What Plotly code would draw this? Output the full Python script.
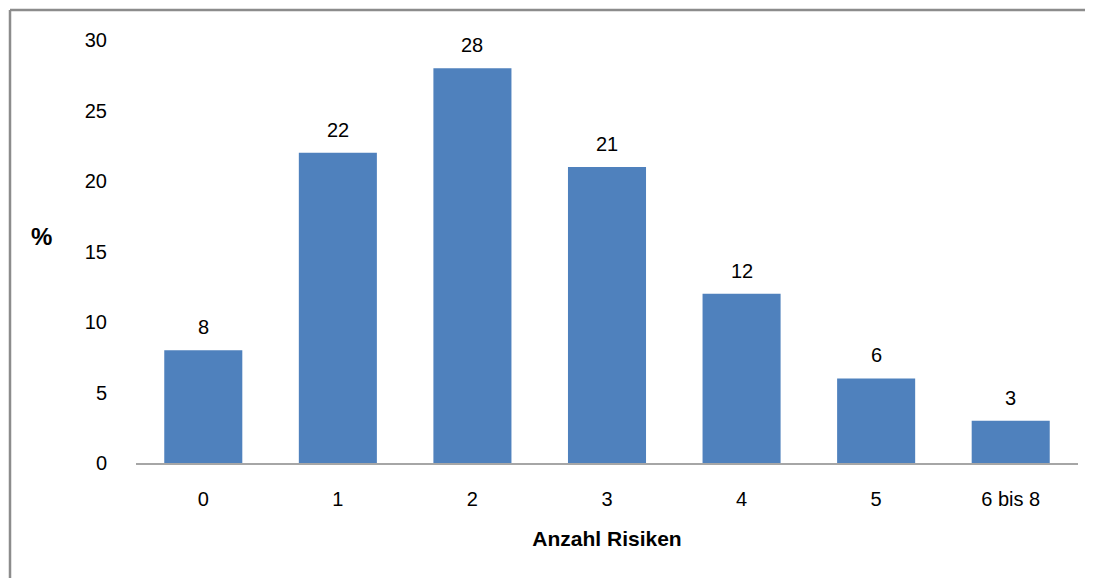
import plotly.graph_objects as go

categories = ["0", "1", "2", "3", "4", "5", "6 bis 8"]
values = [8, 22, 28, 21, 12, 6, 3]
y_ticks = [0, 5, 10, 15, 20, 25, 30]

# the page body adds an 8px offset; target positions are in window pixels
OFF = 8
W, H = 1093, 578
plot_left, plot_right, plot_top, plot_bottom = 136, 1078, 40, 463
ml = plot_left - OFF
mr = W - (plot_right - OFF)
mt = plot_top - OFF
mb = H - (plot_bottom - OFF)
pw, ph = W - ml - mr, H - mt - mb

def px_to_paper_x(px):
    return (px - OFF - ml) / pw

def px_to_paper_y(py):
    return (H - mb - (py - OFF)) / ph

FONT = "Liberation Sans"
bar_color = "#4F81BD"

fig = go.Figure()
fig.add_trace(go.Bar(
    x=categories, y=values, width=0.58,
    marker=dict(color=bar_color, line=dict(width=0)),
    hoverinfo="x+y",
))

for c, v in zip(categories, values):
    fig.add_annotation(x=c, y=v, text=str(v), showarrow=False,
                       yanchor="bottom", yshift=10,
                       font=dict(family=FONT, size=20, color="#000000"))

# outer chart frame (left and top edges)
fig.add_shape(type="line", xref="paper", yref="paper",
              x0=px_to_paper_x(10), x1=px_to_paper_x(W + 20),
              y0=px_to_paper_y(10), y1=px_to_paper_y(10),
              line=dict(color="#8c8c8c", width=2.5))
fig.add_shape(type="line", xref="paper", yref="paper",
              x0=px_to_paper_x(10), x1=px_to_paper_x(10),
              y0=px_to_paper_y(10), y1=px_to_paper_y(H + 20),
              line=dict(color="#8c8c8c", width=2.5))

fig.add_annotation(xref="paper", yref="paper", x=px_to_paper_x(41), y=px_to_paper_y(236),
                   xanchor="center", yanchor="middle",
                   text="<b>%</b>", showarrow=False,
                   font=dict(family=FONT, size=24, color="#000000"))

fig.update_layout(
    width=W, height=H,
    margin=dict(l=ml, r=mr, t=mt, b=mb),
    paper_bgcolor="white", plot_bgcolor="white",
    showlegend=False,
    font=dict(family=FONT, size=20, color="#000000"),
    xaxis=dict(
        type="category",
        showline=True, linecolor="#a6a6a6", linewidth=2,
        ticks="", showgrid=False,
        tickfont=dict(family=FONT, size=20, color="#000000"),
        ticklabelstandoff=17,
        title=dict(text="<b>Anzahl Risiken</b>", standoff=22,
                   font=dict(family=FONT, size=21, color="#000000")),
    ),
    yaxis=dict(
        range=[0, 30], tickvals=y_ticks,
        showline=False, showgrid=False, zeroline=False, ticks="",
        tickfont=dict(family=FONT, size=20, color="#000000"),
        ticklabelstandoff=28,
    ),
)

fig.write_html("out.html")
